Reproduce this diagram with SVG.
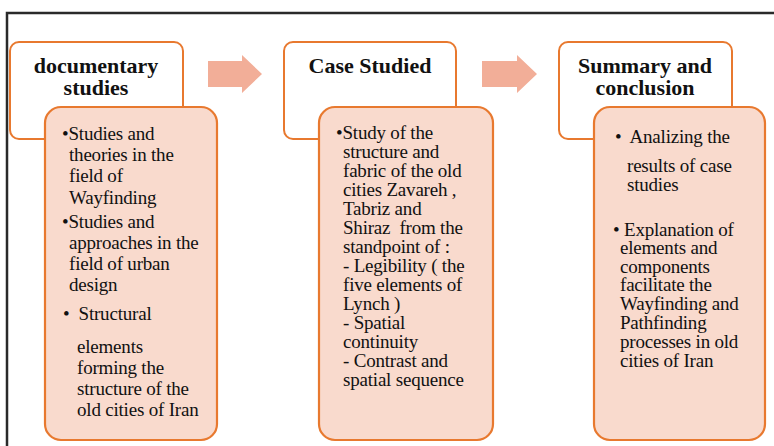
<svg xmlns="http://www.w3.org/2000/svg" width="774" height="446" viewBox="0 0 774 446">
<style>
.frame{fill:#fff;stroke:#2a2a2a;stroke-width:2.5}
.head{fill:#fff;stroke:#E8792F;stroke-width:2}
.body{fill:#F9DACD;stroke:#E8792F;stroke-width:2.2}
.arr{fill:#F2AE98}
.t{font-family:"Liberation Serif","Times New Roman",serif;font-weight:bold;font-size:22px;fill:#111;text-anchor:middle}
.b{font-family:"Liberation Serif","Times New Roman",serif;font-size:19px;fill:#111;white-space:pre;letter-spacing:-0.2px}
</style>
<rect x="0" y="0" width="774" height="446" fill="#fff"/>
<rect class="frame" x="7" y="13" width="800" height="460"/>
<g id="connectors">
<path class="arr" d="M208,61 H242 V55 L262,74 L242,93 V87 H208 Z"/>
<path class="arr" d="M482,61 H517 V55 L537,74 L517,93 V87 H482 Z"/>
</g>
<g id="node1">
<rect class="head" x="10" y="42" width="173" height="97" rx="9"/>
<text class="t" x="96" y="73">documentary</text>
<text class="t" x="96" y="95">studies</text>
<rect class="body" x="45" y="107" width="172" height="333" rx="16"/>
<text class="b"><tspan x="62" y="140">•Studies and</tspan><tspan x="69" y="161">theories in the</tspan><tspan x="69" y="182">field of</tspan><tspan x="69" y="204">Wayfinding</tspan><tspan x="62" y="228">•Studies and</tspan><tspan x="69" y="249">approaches in the</tspan><tspan x="69" y="270">field of urban</tspan><tspan x="69" y="291">design</tspan><tspan x="63" y="320">•  Structural</tspan><tspan x="77" y="353">elements</tspan><tspan x="77" y="374">forming the</tspan><tspan x="77" y="395">structure of the</tspan><tspan x="77" y="416">old cities of Iran</tspan></text>
</g>
<g id="node2">
<rect class="head" x="284" y="42" width="172" height="97" rx="9"/>
<text class="t" x="370" y="73">Case Studied</text>
<rect class="body" x="319" y="107" width="174" height="333" rx="16"/>
<text class="b"><tspan x="336" y="139">•Study of the</tspan><tspan x="343" y="158">structure and</tspan><tspan x="343" y="177">fabric of the old</tspan><tspan x="343" y="196">cities Zavareh ,</tspan><tspan x="343" y="215">Tabriz and</tspan><tspan x="343" y="234">Shiraz  from the</tspan><tspan x="343" y="253">standpoint of :</tspan><tspan x="343" y="272">- Legibility ( the</tspan><tspan x="343" y="291">five elements of</tspan><tspan x="343" y="310">Lynch )</tspan><tspan x="343" y="329">- Spatial</tspan><tspan x="343" y="348">continuity</tspan><tspan x="343" y="367">- Contrast and</tspan><tspan x="343" y="386">spatial sequence</tspan></text>
</g>
<g id="node3">
<rect class="head" x="559" y="42" width="173" height="97" rx="9"/>
<text class="t" x="645" y="73">Summary and</text>
<text class="t" x="645" y="95">conclusion</text>
<rect class="body" x="594" y="107" width="171" height="333" rx="16"/>
<text class="b"><tspan x="615" y="143">•  Analizing the</tspan><tspan x="627" y="172">results of case</tspan><tspan x="627" y="191">studies</tspan><tspan x="613" y="236">• Explanation of</tspan><tspan x="620" y="254">elements and</tspan><tspan x="620" y="273">components</tspan><tspan x="620" y="291">facilitate the</tspan><tspan x="620" y="310">Wayfinding and</tspan><tspan x="620" y="329">Pathfinding</tspan><tspan x="620" y="348">processes in old</tspan><tspan x="620" y="367">cities of Iran</tspan></text>
</g>
</svg>
